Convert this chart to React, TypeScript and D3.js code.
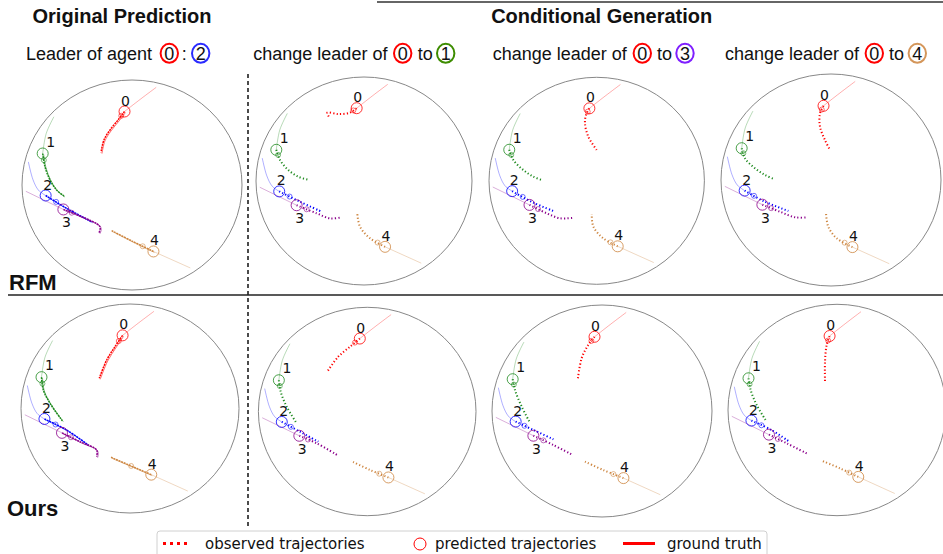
import * as d3 from 'd3';
import React from 'react';

type Pt = [number, number];

// agent colours (0..4)
const agentColors = ['#ff0000', '#1f8a1f', '#0000ff', '#8b008b', '#cd853f'];
const agentIds = ['0', '1', '2', '3', '4'];

// current positions of the agents (unit circle coords, y up)
const markers: Pt[] = [
  [-0.068, 0.70],
  [-0.812, 0.30],
  [-0.785, -0.10],
  [-0.624, -0.233],
  [0.195, -0.633],
];

// observed history, oldest first (ends at the marker)
const history: Pt[][] = [
  [[0.22, 0.93], [0.08, 0.82]],
  [[-0.71, 0.65], [-0.78, 0.49]],
  [[-0.942, 0.22], [-0.9, 0.05], [-0.85, -0.05]],
  [[-0.965, -0.06]],
  [[0.53, -0.79]],
];

// predictions after the marker, one list per panel
const predRfmOrig: Pt[][] = [
  [[-0.127, 0.619], [-0.2, 0.524], [-0.255, 0.429], [-0.282, 0.308]],
  [[-0.791, 0.174], [-0.745, 0.048], [-0.685, -0.048], [-0.618, -0.105]],
  [[-0.594, -0.222], [-0.367, -0.35]],
  [[-0.473, -0.295], [-0.291, -0.397], [-0.3, -0.454]],
  [[0.0, -0.534], [-0.185, -0.435]],
];
const predRfmTo1: Pt[][] = [
  [[-0.13, 0.657], [-0.238, 0.644], [-0.34, 0.657], [-0.32, 0.61]],
  [[-0.778, 0.202], [-0.701, 0.106], [-0.608, 0.041], [-0.509, 0.01]],
  [[-0.593, -0.199], [-0.392, -0.295]],
  [[-0.438, -0.311], [-0.315, -0.359], [-0.206, -0.349]],
  [[0.056, -0.551], [-0.037, -0.439], [-0.062, -0.317]],
];
const predRfmTo3: Pt[][] = [
  [[-0.099, 0.636], [-0.109, 0.556], [-0.078, 0.426], [0.0, 0.298]],
  [[-0.774, 0.201], [-0.681, 0.104], [-0.589, 0.04], [-0.511, 0.008]],
  [[-0.589, -0.211], [-0.387, -0.298]],
  [[-0.464, -0.314], [-0.341, -0.362], [-0.208, -0.356]],
  [[0.061, -0.556], [-0.031, -0.443], [-0.046, -0.321]],
];
const predRfmTo4: Pt[][] = [
  [[-0.1, 0.629], [-0.1, 0.503], [-0.055, 0.377], [-0.009, 0.283]],
  [[-0.782, 0.205], [-0.691, 0.11], [-0.6, 0.047], [-0.518, 0.009]],
  [[-0.615, -0.198], [-0.388, -0.292]],
  [[-0.464, -0.299], [-0.327, -0.352], [-0.215, -0.352]],
  [[0.052, -0.55], [-0.025, -0.44], [-0.045, -0.314]],
];
const predOursOrig: Pt[][] = [
  [[-0.138, 0.591], [-0.214, 0.464], [-0.282, 0.289]],
  [[-0.795, 0.177], [-0.734, 0.05], [-0.621, -0.117]],
  [[-0.581, -0.206], [-0.382, -0.35]],
  [[-0.459, -0.318], [-0.306, -0.397], [-0.306, -0.461]],
  [[-0.174, -0.467]],
];
const predOursTo1: Pt[][] = [
  [[-0.158, 0.622], [-0.266, 0.526], [-0.367, 0.382]],
  [[-0.795, 0.19], [-0.74, 0.046], [-0.648, -0.113]],
  [[-0.618, -0.194], [-0.449, -0.29]],
  [[-0.464, -0.305], [-0.266, -0.424]],
  [[0.026, -0.561], [-0.149, -0.475]],
];
const predOursTo3: Pt[][] = [
  [[-0.125, 0.623], [-0.185, 0.497], [-0.221, 0.292]],
  [[-0.791, 0.198], [-0.73, 0.041], [-0.655, -0.11]],
  [[-0.624, -0.179], [-0.442, -0.267]],
  [[-0.442, -0.321], [-0.267, -0.415]],
  [[0.012, -0.557], [-0.155, -0.478]],
];
const predOursTo4: Pt[][] = [
  [[-0.095, 0.615], [-0.11, 0.457], [-0.11, 0.268]],
  [[-0.792, 0.189], [-0.737, 0.047], [-0.645, -0.111]],
  [[-0.602, -0.189], [-0.437, -0.3]],
  [[-0.461, -0.315], [-0.263, -0.419]],
  [[0.028, -0.552], [-0.14, -0.48]],
];

// subtitle pieces: target agent and its colour
const subtitleTargets = ['2', '1', '3', '4'];
const subtitleColors = ['#2a2aff', '#3d8c00', '#7f1fff', '#d4965a'];

const panels = [
  { cx: 132, cy: 185, rx: 110, ry: 105, pred: predRfmOrig, dense: true },
  { cx: 364, cy: 181, rx: 108, ry: 104, pred: predRfmTo1, dense: false },
  { cx: 596.7, cy: 180.8, rx: 107.7, ry: 103.5, pred: predRfmTo3, dense: false },
  { cx: 831, cy: 180, rx: 110, ry: 106, pred: predRfmTo4, dense: false },
  { cx: 130, cy: 408.5, rx: 109, ry: 104.5, pred: predOursOrig, dense: true },
  { cx: 367.2, cy: 411.5, rx: 108.8, ry: 104.2, pred: predOursTo1, dense: false },
  { cx: 602, cy: 411, rx: 110, ry: 106, pred: predOursTo3, dense: false },
  { cx: 837, cy: 410, rx: 109, ry: 105.7, pred: predOursTo4, dense: false },
];

const labelOffsets: Pt[] = [[1, -11], [8, -12], [2, -11], [3, 13], [1, -11]];

const sans = 'Liberation Sans, Arial, sans-serif';
const dejavu = 'DejaVu Sans, sans-serif';

function Panel({ p }: { p: typeof panels[number] }) {
  const x = d3.scaleLinear().domain([-1, 1]).range([p.cx - p.rx, p.cx + p.rx]);
  const y = d3.scaleLinear().domain([-1, 1]).range([p.cy + p.ry, p.cy - p.ry]);
  const line = d3.line<Pt>().x(d => x(d[0])).y(d => y(d[1])).curve(d3.curveCatmullRom.alpha(0.5));

  return (
    <g>
      <ellipse cx={x(0)} cy={y(0)} rx={p.rx} ry={p.ry} fill="none" stroke="#888" strokeWidth={1} />
      {markers.map((m, i) => {
        const col = agentColors[i];
        const hist = [...history[i], m];
        const pr = [m, ...p.pred[i]];
        const mid: Pt = [(m[0] + p.pred[i][0][0]) / 2, (m[1] + p.pred[i][0][1]) / 2];
        return (
          <g key={i}>
            <path d={line(hist) || ''} fill="none" stroke={col} strokeOpacity={0.4} strokeWidth={0.8} />
            <path d={line(pr) || ''} fill="none" stroke={col}
              strokeWidth={p.dense ? 1.5 : 2}
              strokeDasharray={p.dense ? '2 0.8' : '1.2 2.2'} />
            {p.dense && (
              <path d={line(pr) || ''} fill="none" stroke={col} strokeWidth={0.8}
                transform="translate(1,1)" strokeOpacity={0.7} />
            )}
            <circle cx={x(mid[0])} cy={y(mid[1])} r={2.5} fill="none" stroke={col} strokeOpacity={0.7} strokeWidth={0.8} />
            <circle cx={x(m[0])} cy={y(m[1])} r={5.5} fill="none" stroke={col} strokeOpacity={0.8} strokeWidth={1} />
            <text x={x(m[0]) + labelOffsets[i][0]} y={y(m[1]) + labelOffsets[i][1]}
              textAnchor="middle" dominantBaseline="central" fontFamily={dejavu} fontSize={14} fill="#111">
              {agentIds[i]}
            </text>
          </g>
        );
      })}
    </g>
  );
}

function Circled({ cx, label, color }: { cx: number; label: string; color: string }) {
  return (
    <g>
      <ellipse cx={cx} cy={53.3} rx={8.7} ry={9.5} fill="none" stroke={color} strokeWidth={2} />
      <text x={cx} y={59.6} textAnchor="middle" fontFamily={sans} fontSize={18} fill="#111">{label}</text>
    </g>
  );
}

export default function App() {
  const subX = [26, 253.3, 492.7, 725];
  const zeroX = [169.3, 402.7, 642.3, 874.3];
  const toX = [184.3, 417.7, 657, 889];
  const targetX = [200.7, 445.7, 685, 917.3];

  return (
    <svg width={943} height={554} style={{ position: 'absolute', left: 0, top: 0, background: '#fff' }}>
      <rect width={943} height={554} fill="#fff" />
      {/* headers */}
      <line x1={377} x2={943} y1={2} y2={2} stroke="#333" strokeWidth={1.5} />
      <text x={122} y={23} textAnchor="middle" fontFamily={sans} fontWeight="bold" fontSize={20} fill="#111">Original Prediction</text>
      <text x={601.7} y={23} textAnchor="middle" fontFamily={sans} fontWeight="bold" fontSize={20} fill="#111">Conditional Generation</text>

      {subX.map((sx, k) => (
        <g key={k}>
          <text x={sx} y={59.6} fontFamily={sans} fontSize={18} fill="#111">
            {k === 0 ? 'Leader of agent' : 'change leader of'}
          </text>
          <Circled cx={zeroX[k]} label="0" color="#ff0000" />
          <text x={toX[k]} y={59.6} textAnchor={k === 0 ? 'middle' : 'start'} fontFamily={sans} fontSize={18} fill="#111">
            {k === 0 ? ':' : 'to'}
          </text>
          <Circled cx={targetX[k]} label={subtitleTargets[k]} color={subtitleColors[k]} />
        </g>
      ))}

      {panels.map((p, i) => <Panel key={i} p={p} />)}

      {/* separators */}
      <line x1={248} x2={248} y1={74} y2={526} stroke="#111" strokeWidth={1.5} strokeDasharray="4 3" />
      <line x1={8} x2={943} y1={295} y2={295} stroke="#222" strokeWidth={1.5} />
      <text x={9} y={290} fontFamily={sans} fontWeight="bold" fontSize={22} fill="#111">RFM</text>
      <text x={7} y={516} fontFamily={sans} fontWeight="bold" fontSize={22} fill="#111">Ours</text>

      {/* legend */}
      <rect x={157} y={531} width={610} height={32} rx={3} fill="#fff" stroke="#d0d0d0" strokeWidth={1} />
      <line x1={163} x2={190} y1={543.5} y2={543.5} stroke="#ff0000" strokeWidth={3} strokeDasharray="3 4" />
      <text x={205} y={549} fontFamily={dejavu} fontSize={15} fill="#111">observed trajectories</text>
      <circle cx={420} cy={544} r={6} fill="none" stroke="#ff0000" strokeWidth={1} />
      <text x={435} y={549} fontFamily={dejavu} fontSize={15} fill="#111">predicted trajectories</text>
      <line x1={623} x2={655} y1={543.5} y2={543.5} stroke="#ff0000" strokeWidth={3} />
      <text x={667} y={549} fontFamily={dejavu} fontSize={15} fill="#111">ground truth</text>
    </svg>
  );
}
